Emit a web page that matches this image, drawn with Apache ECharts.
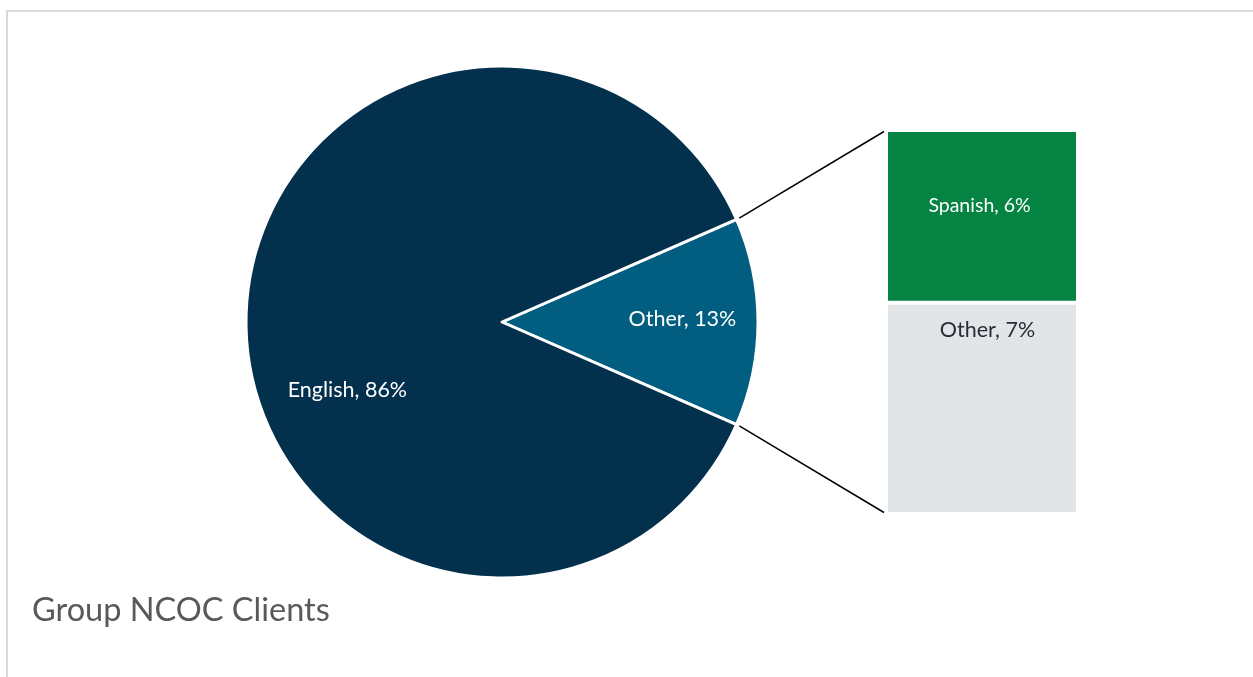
<!DOCTYPE html>
<html>
<head>
<meta charset="utf-8">
<script src="https://cdn.jsdelivr.net/npm/echarts@6/dist/echarts.min.js"></script>
<style>
  html, body { margin: 0; padding: 0; background: #ffffff; }
  #chart { width: 1253px; height: 677px; }
</style>
</head>
<body>
<div id="chart"></div>
<script>
// ---- data ----
const pieCategories = ['Other', 'English'];
const pieValues = [13, 86];
const barCategories = ['Other', 'Spanish'];   // bottom to top
const barValues = [7.15, 5.85];
const titleText = 'Group NCOC Clients';

// ---- layout ----
const CX = 502, CY = 322, R = 256;
const FONT = 'Lato, "Open Sans", sans-serif';
const BAR = { left: 886, top: 130, width: 192, height: 384 };

const pieTotal = pieValues.reduce((a, b) => a + b, 0);
const halfOther = 360 * pieValues[0] / pieTotal / 2;
const rad = halfOther * Math.PI / 180;
const edgeTop = [CX + (R + 3) * Math.cos(rad), CY - (R + 3) * Math.sin(rad)];
const edgeBot = [CX + (R + 3) * Math.cos(rad), CY + (R + 3) * Math.sin(rad)];

const pieColors = ['#025E80', '#03304C'];
const barColors = ['#E1E5E8', '#058342'];
const barLabelColors = ['#262D36', '#ffffff'];

// label positions as polar (angle deg counterclockwise from right, fraction of R)
const pieLabelPolar = [[1.0, 0.705], [203.8, 0.66]];

const chart = echarts.init(document.getElementById('chart'), null, { renderer: 'canvas' });

const option = {
  animation: false,
  backgroundColor: '#ffffff',
  graphic: [
    { type: 'rect', silent: true, z: 0,
      shape: { x: 7, y: 11, width: 1400, height: 1000 },
      style: { fill: 'none', stroke: '#D9D9D9', lineWidth: 2 } },
    { type: 'line', z: 10, shape: { x1: edgeTop[0], y1: edgeTop[1], x2: BAR.left - 2, y2: BAR.top + 1.5 },
      style: { stroke: '#000000', lineWidth: 1.5 } },
    { type: 'line', z: 10, shape: { x1: edgeBot[0], y1: edgeBot[1], x2: BAR.left - 2, y2: BAR.top + BAR.height - 1.5 },
      style: { stroke: '#000000', lineWidth: 1.5 } },
    { type: 'text', left: 32, top: 594, z: 10,
      style: { text: titleText, fill: '#595959', font: '32.5px ' + FONT } }
  ],
  grid: { left: BAR.left, top: BAR.top, width: BAR.width, height: BAR.height },
  xAxis: { type: 'category', data: ['Other'], show: false },
  yAxis: { type: 'value', min: 0, max: barValues.reduce((a, b) => a + b, 0), show: false },
  series: [
    {
      type: 'pie',
      center: [CX, CY],
      radius: [0, R],
      startAngle: halfOther,
      clockwise: true,
      avoidLabelOverlap: false,
      data: pieCategories.map((n, i) => ({ name: n, value: pieValues[i], itemStyle: { color: pieColors[i] } })),
      itemStyle: { borderColor: '#ffffff', borderWidth: 3 },
      label: {
        show: true, position: 'inside', color: '#ffffff',
        fontFamily: FONT, fontSize: 21.5,
        formatter: p => p.name + ', ' + p.value + '%'
      },
      labelLine: { show: false },
      labelLayout: function (params) {
        const pol = pieLabelPolar[params.dataIndex];
        const a = pol[0] * Math.PI / 180;
        return { x: CX + pol[1] * R * Math.cos(a), y: CY - pol[1] * R * Math.sin(a), align: 'center', verticalAlign: 'middle' };
      },
      emphasis: { disabled: true }
    },
    ...barCategories.map((n, i) => ({
      type: 'bar',
      name: n,
      stack: 'x',
      barWidth: '100%',
      data: [barValues[i]],
      itemStyle: { color: barColors[i], borderColor: '#ffffff', borderWidth: 2 },
      label: {
        show: true,
        position: i === 0 ? 'insideTop' : 'inside',
        distance: i === 0 ? 16 : 5,
        offset: i === 0 ? [5.5, 0] : [-2.5, -10.5],
        color: barLabelColors[i],
        fontFamily: FONT, fontSize: i === 0 ? 21.5 : 19.5,
        formatter: p => n + ', ' + Math.round(p.value) + '%'
      },
      emphasis: { disabled: true }
    }))
  ]
};
chart.setOption(option);
</script>
</body>
</html>
